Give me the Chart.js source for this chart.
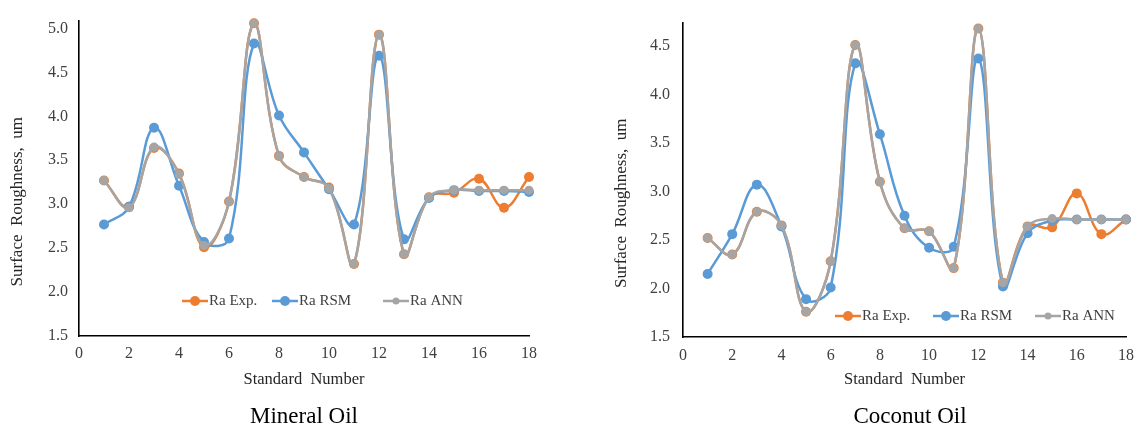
<!DOCTYPE html>
<html>
<head>
<meta charset="utf-8">
<script src="https://cdn.jsdelivr.net/npm/chart.js@4.4.1/dist/chart.umd.min.js"></script>
<style>
  html, body { margin: 0; padding: 0; background: #fff; }
  body { width: 1143px; height: 426px; position: relative; overflow: hidden; font-family: "Liberation Serif", "Times New Roman", serif; }
  .panel { position: absolute; top: 0; height: 426px; }
  .caption { position: absolute; font-family: "Liberation Serif", serif; font-size: 23px; line-height: 23px; color: #000; white-space: nowrap; transform: translateX(-50%); }
</style>
</head>
<body>
<div class="panel" style="left:0px;width:560px;"><canvas id="c1" width="560" height="426"></canvas></div>
<div class="panel" style="left:570px;width:573px;"><canvas id="c2" width="573" height="426"></canvas></div>
<div class="caption" style="left:304px;top:404px;">Mineral Oil</div>
<div class="caption" style="left:910px;top:404px;">Coconut Oil</div>
<script>
// ---- Data ----
const stdNumbers = [1, 2, 3, 4, 5, 6, 7, 8, 9, 10, 11, 12, 13, 14, 15, 16, 17, 18];
const seriesNames = ['Ra Exp.', 'Ra RSM', 'Ra ANN'];
const xTicks = [0, 2, 4, 6, 8, 10, 12, 14, 16, 18];

const mineralExp = [3.27, 2.97, 3.64, 3.35, 2.51, 3.03, 5.06, 3.55, 3.31, 3.19, 2.32, 4.93, 2.43, 3.08, 3.13, 3.29, 2.96, 3.31];
const mineralRSM = [2.77, 2.97, 3.87, 3.21, 2.57, 2.61, 4.83, 4.01, 3.59, 3.17, 2.77, 4.69, 2.60, 3.07, 3.16, 3.15, 3.15, 3.14];
const mineralANN = [3.27, 2.96, 3.65, 3.34, 2.53, 3.03, 5.06, 3.55, 3.31, 3.18, 2.32, 4.93, 2.43, 3.08, 3.16, 3.16, 3.16, 3.16];
const mineralYTicks = [1.5, 2.0, 2.5, 3.0, 3.5, 4.0, 4.5, 5.0];

const coconutExp = [2.52, 2.35, 2.79, 2.65, 1.76, 2.28, 4.51, 3.10, 2.62, 2.59, 2.21, 4.68, 2.06, 2.64, 2.63, 2.98, 2.56, 2.71];
const coconutRSM = [2.15, 2.56, 3.07, 2.64, 1.89, 2.01, 4.32, 3.59, 2.75, 2.42, 2.43, 4.37, 2.02, 2.57, 2.70, 2.71, 2.71, 2.71];
const coconutANN = [2.52, 2.35, 2.79, 2.65, 1.76, 2.28, 4.51, 3.10, 2.62, 2.59, 2.21, 4.68, 2.06, 2.64, 2.72, 2.71, 2.71, 2.71];
const coconutYTicks = [1.5, 2.0, 2.5, 3.0, 3.5, 4.0, 4.5];

// ---- Styling ----
const COLORS = ['#ED7D31', '#5B9BD5', '#A5A5A5'];
const SERIF = '"Liberation Serif", "Times New Roman", serif';
const TICK_COLOR = '#404040';

const insideLegend = {
  id: 'insideLegend',
  afterDraw(chart, args, opts) {
    const ctx = chart.ctx;
    const area = chart.chartArea;
    ctx.save();
    ctx.font = '15px ' + SERIF;
    ctx.textBaseline = 'middle';
    ctx.textAlign = 'left';
    chart.data.datasets.forEach((ds, i) => {
      const x0 = area.left + opts.offsets[i];
      const y = opts.y;
      ctx.strokeStyle = ds.borderColor;
      ctx.lineWidth = 2.5;
      ctx.beginPath(); ctx.moveTo(x0, y); ctx.lineTo(x0 + 26, y); ctx.stroke();
      ctx.fillStyle = ds.borderColor;
      ctx.beginPath(); ctx.arc(x0 + 13, y, opts.radii[i], 0, Math.PI * 2); ctx.fill();
      ctx.fillStyle = TICK_COLOR;
      ctx.fillText(ds.label, x0 + 27, y);
    });
    ctx.restore();
  }
};

function makeDatasets(exp, rsm, ann) {
  const all = [exp, rsm, ann];
  return all.map((vals, i) => ({
    label: seriesNames[i],
    data: stdNumbers.map((x, j) => ({ x: x, y: vals[j] })),
    borderColor: COLORS[i],
    backgroundColor: COLORS[i],
    pointBackgroundColor: COLORS[i],
    pointBorderColor: COLORS[i],
    pointBorderWidth: 0,
    pointRadius: i === 2 ? 4.5 : 5,
    borderWidth: 2.5,
    tension: 0.4,
    order: 3 - i,
    clip: false,
    fill: false
  }));
}

function makeChart(id, datasets, cfg) {
  return new Chart(document.getElementById(id), {
    type: 'line',
    data: { datasets: datasets },
    plugins: [insideLegend],
    options: {
      responsive: false,
      animation: false,
      layout: { padding: cfg.padding },
      plugins: {
        legend: { display: false },
        tooltip: { enabled: false },
        insideLegend: cfg.legend
      },
      scales: {
        x: {
          type: 'linear',
          min: 0, max: 18,
          afterFit: (s) => { s.height = cfg.xHeight; },
          afterBuildTicks: (s) => { s.ticks = xTicks.map(v => ({ value: v })); },
          grid: { display: false, drawTicks: false },
          border: { display: true, color: '#000', width: 1.6 },
          ticks: { color: TICK_COLOR, font: { family: SERIF, size: 16 }, padding: cfg.xTickPad, maxRotation: 0, autoSkip: false },
          title: { display: true, text: 'Standard  Number', color: '#262626', font: { family: SERIF, size: 16.5 }, padding: { top: 0, bottom: 0 } }
        },
        y: {
          type: 'linear',
          min: 1.5, max: cfg.yMax,
          afterFit: (s) => { s.width = cfg.yWidth; },
          afterBuildTicks: (s) => { s.ticks = cfg.yTicks.map(v => ({ value: v })); },
          grid: { display: false, drawTicks: false },
          border: { display: true, color: '#000', width: 1.6 },
          ticks: { color: TICK_COLOR, font: { family: SERIF, size: 16 }, padding: cfg.yTickPad, callback: (v) => Number(v).toFixed(1) },
          title: { display: true, text: 'Surface  Roughness,  um' + '\u00a0'.repeat(11), color: '#262626', font: { family: SERIF, size: 17 }, padding: { top: cfg.yTitlePad, bottom: 0 } }
        }
      }
    }
  });
}

makeChart('c1', makeDatasets(mineralExp, mineralRSM, mineralANN), {
  padding: { left: 0, top: 12, right: 31, bottom: 36 },
  xHeight: 54, yWidth: 79, yMax: 5.09, yTicks: mineralYTicks,
  xTickPad: 8, yTickPad: 11, yTitlePad: 7.3,
  legend: { offsets: [103, 193, 304], y: 301, radii: [5, 5, 3.5] }
});

makeChart('c2', makeDatasets(coconutExp, coconutRSM, coconutANN), {
  padding: { left: 0, top: 13, right: 10, bottom: 36 },
  xHeight: 53, yWidth: 113, yMax: 4.74, yTicks: coconutYTicks,
  xTickPad: 9, yTickPad: 13, yTitlePad: 41.5,
  legend: { offsets: [152, 250, 352], y: 316, radii: [5, 5, 3.5] }
});
</script>
</body>
</html>
